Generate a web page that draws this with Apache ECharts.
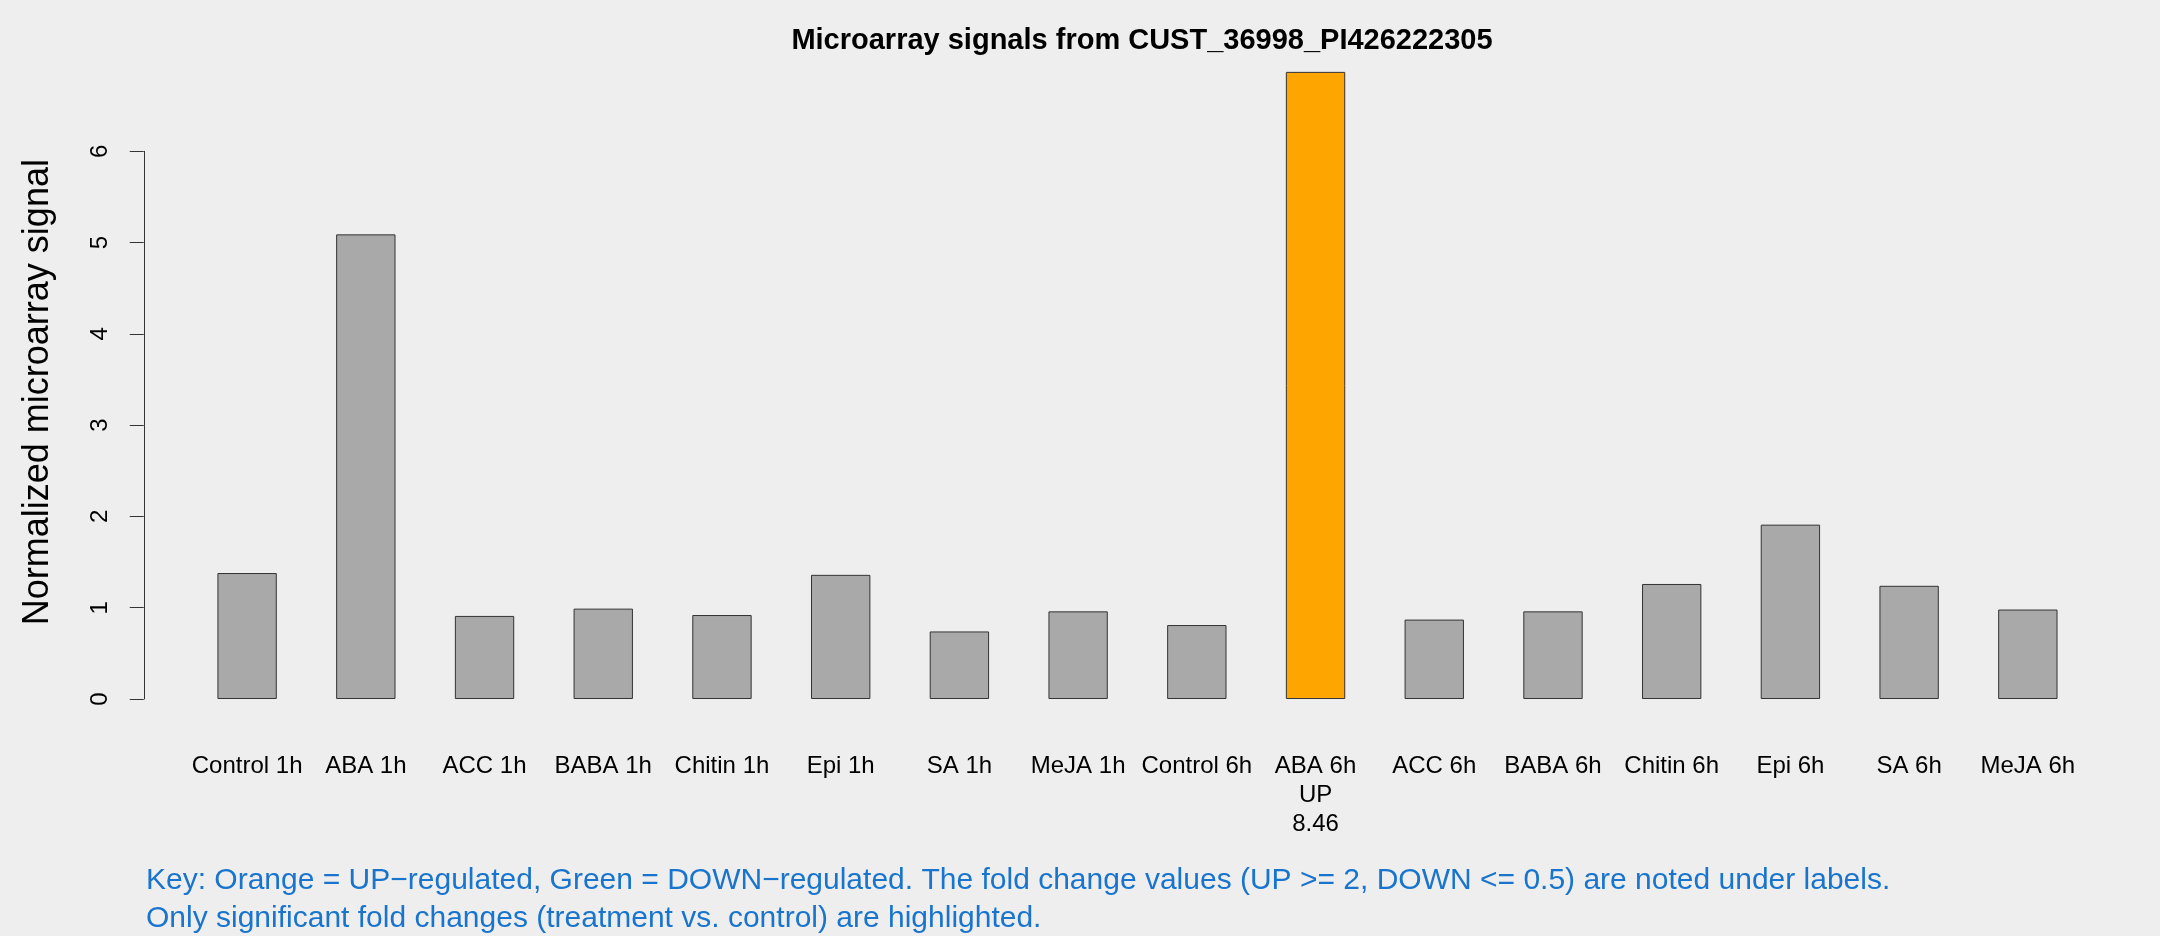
<!DOCTYPE html>
<html>
<head>
<meta charset="utf-8">
<script src="https://cdn.jsdelivr.net/npm/echarts@6/dist/echarts.min.js"></script>
<style>
html,body{margin:0;padding:0;background:#EEEEEE;}
#chart{width:2160px;height:936px;}
</style>
</head>
<body>
<div id="chart"></div>
<script>
// ---- data ----
var chartTitle = 'Microarray signals from CUST_36998_PI426222305';
var yAxisTitle = 'Normalized microarray signal';
var categories = ['Control 1h','ABA 1h','ACC 1h','BABA 1h','Chitin 1h','Epi 1h','SA 1h','MeJA 1h',
                  'Control 6h','ABA 6h','ACC 6h','BABA 6h','Chitin 6h','Epi 6h','SA 6h','MeJA 6h'];
var values = [1.38, 5.09, 0.91, 0.99, 0.92, 1.36, 0.74, 0.96,
              0.81, 6.87, 0.87, 0.96, 1.26, 1.91, 1.24, 0.98];
var regulation = ['', '', '', '', '', '', '', '',
                  '', 'UP', '', '', '', '', '', ''];
var foldChange = [null, null, null, null, null, null, null, null,
                  null, 8.46, null, null, null, null, null, null];
var yTicks = [0, 1, 2, 3, 4, 5, 6];
var keyLines = [
  'Key: Orange = UP\u2212regulated, Green = DOWN\u2212regulated. The fold change values (UP >= 2, DOWN <= 0.5) are noted under labels.',
  'Only significant fold changes (treatment vs. control) are highlighted.'
];

// ---- chart ----
var FONT = '"Liberation Sans", Arial, Helvetica, sans-serif';
var colorFor = { 'UP': '#FFA500', 'DOWN': '#00C000', '': '#A9A9A9' };

var labels = categories.map(function (c, i) {
  return regulation[i] ? c + '\n' + regulation[i] + '\n' + foldChange[i].toFixed(2) : c;
});

var chart = echarts.init(document.getElementById('chart'), null, { renderer: 'canvas' });
chart.setOption({
  backgroundColor: '#EEEEEE',
  animation: false,
  title: [
    {
      text: chartTitle,
      left: 1137, top: 21, textAlign: 'center',
      textStyle: { fontFamily: FONT, fontSize: 29, fontWeight: 'bold', color: '#000' }
    },
    {
      text: keyLines.join('\n'),
      left: 141, top: 857,
      textStyle: { fontFamily: FONT, fontSize: 30, fontWeight: 'normal', color: '#1874CD', lineHeight: 38 }
    }
  ],
  grid: { left: 187.75, right: 72.8, top: 151.3, bottom: 237, containLabel: false },
  xAxis: {
    type: 'category',
    data: labels,
    boundaryGap: true,
    axisLine: { show: false },
    axisTick: { show: false },
    axisLabel: {
      interval: 0, margin: 53, color: '#000',
      fontFamily: FONT, fontSize: 24, lineHeight: 28.8
    },
    splitLine: { show: false }
  },
  yAxis: {
    type: 'value',
    min: yTicks[0], max: yTicks[yTicks.length - 1], interval: 1,
    offset: 44,
    name: yAxisTitle,
    nameLocation: 'middle',
    nameRotate: 90,
    nameGap: 88,
    nameTextStyle: { fontFamily: FONT, fontSize: 36, color: '#000', padding: [0, 0, 0, 66] },
    axisLine: { show: true, lineStyle: { color: '#333', width: 1 } },
    axisTick: { show: true, length: 14, lineStyle: { color: '#333', width: 1 } },
    axisLabel: { rotate: 90, margin: 31, color: '#000', fontFamily: FONT, fontSize: 24 },
    splitLine: { show: false }
  },
  series: [{
    type: 'bar',
    clip: false,
    barWidth: '50%',
    data: values.map(function (v, i) {
      return { value: v, itemStyle: { color: colorFor[regulation[i]] } };
    }),
    itemStyle: { borderColor: '#333', borderWidth: 1 }
  }]
});
</script>
</body>
</html>
